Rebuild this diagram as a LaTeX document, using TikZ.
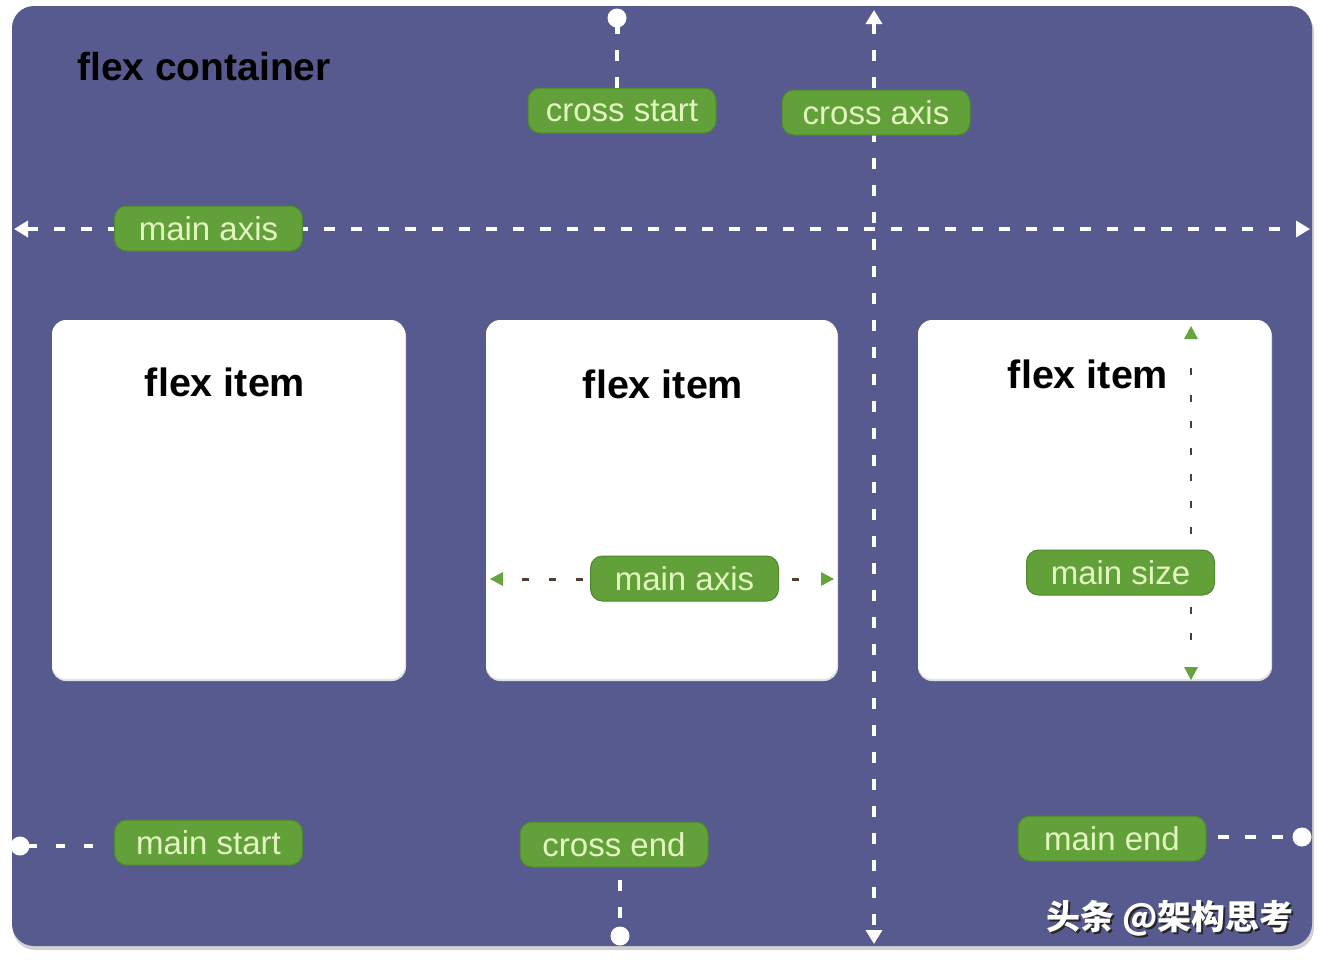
\documentclass[tikz,border=0pt]{standalone}
\usepackage{fontspec}
\setmainfont{Liberation Sans}
\newfontfamily\cjk{Noto Sans CJK SC}
\usetikzlibrary{arrows.meta}
\definecolor{contbg}{RGB}{87,90,143}
\definecolor{pillgreen}{RGB}{98,160,58}
\definecolor{pilledge}{RGB}{80,135,45}
\definecolor{pilltext}{RGB}{228,246,192}
\definecolor{darkdash}{RGB}{80,62,52}
\definecolor{tipgreen}{RGB}{104,164,62}
\begin{document}
\begin{tikzpicture}[x=1pt,y=-1pt,
  pill/.style={fill=pillgreen,draw=pilledge,line width=1pt,rounded corners=12pt,
    minimum width=188pt,minimum height=45pt,inner sep=0pt,text=pilltext,
    font=\fontsize{33}{33}\selectfont},
  itembox/.style={fill=white,rounded corners=14pt},
  title/.style={font=\bfseries\fontsize{39.5}{39.5}\selectfont,text=black,inner sep=0pt},
  wdash/.style={white,line width=4pt,dash pattern=on 11pt off 16pt},
  ddash/.style={darkdash,line width=3pt,dash pattern=on 7pt off 20pt},
  wtips/.style={{Triangle[length=14pt,width=16pt]}-{Triangle[length=14pt,width=16pt]}},
  dot/.style={circle,fill=white,minimum size=19pt,inner sep=0pt}]
\useasboundingbox (0,0) rectangle (1322,964);
\fill[white] (0,0) rectangle (1322,964);
% container
\fill[black!18,rounded corners=22pt] (13,10) rectangle (1314,950);
\fill[contbg,rounded corners=22pt] (12,6) rectangle (1312,946);
\node[title,anchor=west,font=\bfseries\fontsize{39}{39}\selectfont] (fc) at (77,67) {flex container};
% flex items
\fill[black!12,rounded corners=14pt] (52,322) rectangle (406,681);
\fill[black!12,rounded corners=14pt] (486,322) rectangle (838,681);
\fill[black!12,rounded corners=14pt] (918,322) rectangle (1272,681);
\node[itembox,minimum width=353pt,minimum height=359pt] (i1) at (228.5,499.5) {};
\node[itembox,minimum width=351pt,minimum height=359pt] (i2) at (661.5,499.5) {};
\node[itembox,minimum width=353pt,minimum height=359pt] (i3) at (1094.5,499.5) {};
\node[title] (t1) at (225,382) {flex item};
\node[title] (t2) at (663,384) {flex item};
\node[title] (t3) at (1088,374) {flex item};
% axes
\coordinate (maL) at (14,229);
\coordinate (maR) at (1310,229);
\coordinate (caT) at (874,10);
\coordinate (caB) at (874,944);
\draw[wdash,wtips] (maL) -- (maR);
\draw[wdash,wtips] (caT) -- (caB);
% item 2 main axis
\coordinate (i2L) at (490,579);
\coordinate (i2R) at (834,579);
\coordinate (i2a) at (522,579);
\coordinate (i2b) at (803,579);
\draw[ddash] (i2a) -- (i2b);
\fill[tipgreen] (i2L) -- ++(13,-7) -- ++(0,14) -- cycle;
\fill[tipgreen] (i2R) -- ++(-13,-7) -- ++(0,14) -- cycle;
% item 3 main size
\coordinate (i3T) at (1191,326);
\coordinate (i3B) at (1191,680);
\coordinate (i3a) at (1191,368);
\coordinate (i3b) at (1191,648);
\draw[ddash,line width=2.5pt,dash pattern=on 7pt off 19.5pt] (i3a) -- (i3b);
\fill[tipgreen] (i3T) -- ++(-7,13) -- ++(14,0) -- cycle;
\fill[tipgreen] (i3B) -- ++(-7,-13) -- ++(14,0) -- cycle;
% pills
\node[pill] (ma) at (208.5,228.5) {main axis};
\node[pill] (ca) at (876,112.5) {cross axis};
\node[pill] (cs) at (622,110.5) {cross start};
\node[pill] (ce) at (614,844.5) {cross end};
\node[pill] (ms) at (208.5,842.5) {main start};
\node[pill] (me) at (1112,838.5) {main end};
\node[pill] (ma2) at (684.5,578.5) {main axis};
\node[pill] (msz) at (1120.5,572.5) {main size};
% end dots
\node[dot] (csd) at (617,18) {};
\node[dot] (ced) at (620,936) {};
\node[dot] (msd) at (20,846) {};
\node[dot] (med) at (1302,837) {};
\draw[white,line width=5pt] (csd.center) -- ++(0,16);
\draw[wdash] (cs.north -| csd) -- (csd);
\draw[wdash,dash phase=-12pt] (ce.south -| ced) -- (ced);
\draw[wdash,dash pattern=on 9pt off 19pt,dash phase=20pt,shorten >=16pt] (msd.center) -- (ms.west |- msd);
\draw[wdash,dash phase=-11pt] (me.east |- med) -- (med);
% watermark
\node[font=\cjk\bfseries\fontsize{34}{34}\selectfont,text=black!85,inner sep=0pt] at (1172,920) {头条 @架构思考};
\node[font=\cjk\bfseries\fontsize{34}{34}\selectfont,text=white,inner sep=0pt] (wm) at (1170,918) {头条 @架构思考};
\end{tikzpicture}
\end{document}
